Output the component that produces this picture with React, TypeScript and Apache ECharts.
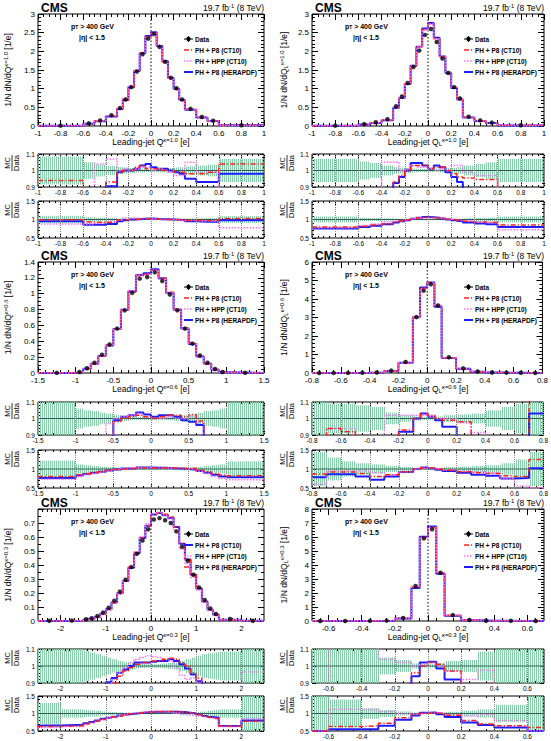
import React, { useEffect, useRef } from 'react';
import * as echarts from 'echarts';

const FONT = '"Liberation Sans", Arial, Helvetica, sans-serif';

// ---------------- Panel 1 : Q (kappa = 1.0) ----------------
const P1_EDGES = [-1, -0.6, -0.5, -0.4, -0.3, -0.25, -0.2, -0.15, -0.1, -0.05, 0, 0.05, 0.1, 0.15, 0.2, 0.25, 0.3, 0.4, 0.5, 0.6, 1];
const P1_DATA = [0.01, 0.07, 0.15, 0.29, 0.48, 0.71, 1.04, 1.46, 1.92, 2.34, 2.46, 2.12, 1.72, 1.29, 1.01, 0.71, 0.46, 0.24, 0.14, 0.02];
const P1_R1_RED = [0.94, 0.85, 0.85, 0.93, 0.99, 1.0, 1.0, 1.02, 1.03, 1.01, 1.01, 1.01, 1.0, 1.0, 0.99, 0.99, 0.98, 0.98, 0.99, 1.04];
const P1_R1_PINK = [0.85, 0.85, 1.04, 1.07, 1.0, 1.01, 1.0, 1.01, 1.02, 1.02, 1.0, 1.01, 1.0, 0.99, 0.97, 0.97, 1.05, 0.99, 0.99, 0.85];
const P1_R1_BLUE = [0.85, 0.85, 0.85, 0.905, 0.99, 1.0, 1.0, 1.01, 1.03, 1.04, 1.02, 1.01, 1.01, 1.0, 0.99, 0.98, 0.95, 0.93, 0.93, 0.98];
const P1_BAND1 = [0.085, 0.05, 0.036, 0.028, 0.02, 0.018, 0.015, 0.012, 0.012, 0.01, 0.01, 0.012, 0.012, 0.015, 0.018, 0.02, 0.025, 0.03, 0.035, 0.07];
const P1_R2_RED = [0.99, 0.93, 0.92, 0.93, 0.98, 0.99, 1.0, 1.01, 1.02, 1.02, 1.01, 1.01, 1.0, 1.0, 0.99, 0.99, 0.97, 0.97, 0.98, 1.03];
const P1_R2_PINK = [0.88, 0.88, 0.9, 0.95, 0.99, 1.05, 1.04, 1.03, 1.03, 1.02, 1.01, 1.0, 1.0, 0.99, 0.98, 0.97, 0.98, 0.96, 0.95, 0.78];
const P1_R2_BLUE = [0.95, 0.86, 0.86, 0.88, 0.95, 0.98, 1.0, 1.01, 1.02, 1.03, 1.02, 1.01, 1.01, 1.0, 0.99, 0.98, 0.95, 0.94, 0.94, 0.98];
const P1_BAND2 = [0.1, 0.06, 0.05, 0.04, 0.03, 0.03, 0.025, 0.02, 0.02, 0.02, 0.02, 0.02, 0.02, 0.02, 0.025, 0.03, 0.03, 0.035, 0.04, 0.09];
const P1_XTICKS = [-1, -0.8, -0.6, -0.4, -0.2, 0, 0.2, 0.4, 0.6, 0.8, 1];

// ---------------- Panel 2 : Q_L (kappa = 1.0) ----------------
const P2_EDGES = [-1, -0.6, -0.5, -0.4, -0.3, -0.25, -0.2, -0.15, -0.1, -0.05, 0, 0.05, 0.1, 0.15, 0.2, 0.25, 0.3, 0.4, 0.5, 0.6, 1];
const P2_DATA = [0.01, 0.05, 0.1, 0.18, 0.53, 0.79, 1.15, 1.58, 2.02, 2.44, 2.6, 2.25, 1.81, 1.42, 1.04, 0.74, 0.25, 0.15, 0.09, 0.02];
const P2_R1_RED = [0.85, 0.85, 0.85, 0.87, 0.93, 0.97, 1.0, 1.03, 1.03, 1.03, 1.01, 1.02, 1.02, 1.0, 0.98, 0.96, 0.955, 0.945, 0.945, 0.85];
const P2_R1_PINK = [0.85, 0.85, 0.85, 1.05, 1.05, 1.0, 1.01, 1.03, 1.02, 1.02, 1.01, 1.0, 1.01, 1.0, 1.03, 1.03, 0.99, 0.97, 0.97, 0.85];
const P2_R1_BLUE = [0.85, 0.85, 0.85, 0.87, 0.925, 0.96, 1.0, 1.045, 1.045, 1.03, 1.01, 1.03, 1.02, 0.99, 0.96, 0.93, 0.88, 0.85, 0.85, 0.85];
const P2_BAND1 = [0.07, 0.055, 0.045, 0.03, 0.02, 0.017, 0.015, 0.012, 0.01, 0.01, 0.01, 0.01, 0.012, 0.015, 0.017, 0.02, 0.03, 0.04, 0.05, 0.07];
const P2_R2_RED = [0.8, 0.82, 0.85, 0.88, 0.93, 0.96, 0.99, 1.02, 1.05, 1.06, 1.05, 1.04, 1.03, 1.01, 0.99, 0.97, 0.95, 0.93, 0.92, 0.85];
const P2_R2_PINK = [0.78, 0.84, 0.88, 0.94, 0.96, 0.97, 0.99, 1.02, 1.04, 1.05, 1.05, 1.04, 1.03, 1.01, 1.0, 0.98, 0.96, 0.94, 0.92, 0.72];
const P2_R2_BLUE = [0.76, 0.8, 0.83, 0.87, 0.92, 0.95, 0.98, 1.02, 1.05, 1.07, 1.06, 1.05, 1.03, 1.0, 0.98, 0.96, 0.92, 0.89, 0.87, 0.8];
const P2_BAND2 = [0.08, 0.05, 0.04, 0.03, 0.02, 0.02, 0.02, 0.02, 0.02, 0.02, 0.02, 0.02, 0.02, 0.02, 0.02, 0.02, 0.03, 0.04, 0.05, 0.08];
const P2_XTICKS = [-1, -0.8, -0.6, -0.4, -0.2, 0, 0.2, 0.4, 0.6, 0.8, 1];

// ---------------- Panel 3 : Q (kappa = 0.6) ----------------
const P3_EDGES = [-1.5, -1, -0.9, -0.8, -0.7, -0.6, -0.5, -0.4, -0.3, -0.2, -0.1, 0, 0.1, 0.2, 0.3, 0.4, 0.5, 0.6, 0.7, 0.8, 0.9, 1, 1.5];
const P3_DATA = [0.002, 0.012, 0.06, 0.13, 0.23, 0.36, 0.56, 0.79, 1.01, 1.19, 1.21, 1.27, 1.16, 0.99, 0.79, 0.56, 0.37, 0.22, 0.13, 0.05, 0.012, 0.002];
const P3_R1_RED = [0.8, 0.8, 0.8, 0.8, 0.8, 0.8, 0.98, 1.0, 1.01, 1.02, 1.01, 1.0, 1.01, 1.02, 1.02, 1.01, 1.025, 0.985, 0.8, 0.8, 0.8, 0.8];
const P3_R1_PINK = [0.8, 0.8, 0.8, 0.8, 0.8, 0.97, 1.0, 1.01, 1.02, 1.03, 1.01, 1.0, 1.0, 1.01, 1.0, 1.0, 1.015, 0.975, 0.8, 0.8, 0.8, 0.8];
const P3_R1_BLUE = [0.8, 0.8, 0.8, 0.8, 0.8, 0.8, 0.99, 1.01, 1.02, 1.037, 1.025, 1.01, 1.02, 1.02, 1.01, 0.99, 0.98, 0.96, 0.8, 0.8, 0.8, 0.8];
const P3_BAND1 = [0.12, 0.06, 0.05, 0.045, 0.035, 0.03, 0.02, 0.015, 0.01, 0.01, 0.01, 0.01, 0.01, 0.01, 0.015, 0.02, 0.025, 0.035, 0.045, 0.05, 0.06, 0.12];
const P3_R2_RED = [0.8, 0.85, 0.88, 0.91, 0.94, 0.97, 0.99, 1.0, 1.01, 1.03, 1.03, 1.02, 1.03, 1.03, 1.02, 1.01, 1.02, 0.97, 0.93, 0.88, 0.84, 0.82];
const P3_R2_PINK = [0.73, 0.8, 0.85, 0.88, 0.92, 0.96, 0.99, 1.01, 1.03, 1.04, 1.03, 1.02, 1.02, 1.02, 1.01, 1.0, 1.0, 0.94, 0.88, 0.8, 0.75, 0.72];
const P3_R2_BLUE = [0.76, 0.83, 0.87, 0.9, 0.93, 0.96, 0.99, 1.01, 1.02, 1.04, 1.04, 1.03, 1.03, 1.02, 1.01, 1.0, 0.99, 0.95, 0.9, 0.85, 0.8, 0.78];
const P3_BAND2 = [0.22, 0.12, 0.1, 0.08, 0.06, 0.05, 0.04, 0.03, 0.02, 0.02, 0.02, 0.02, 0.02, 0.02, 0.03, 0.04, 0.05, 0.06, 0.08, 0.1, 0.12, 0.2];
const P3_XTICKS = [-1.5, -1, -0.5, 0, 0.5, 1, 1.5];

// ---------------- Panel 4 : Q_L (kappa = 0.6) ----------------
const P4_EDGES = [-0.8, -0.7, -0.6, -0.5, -0.4, -0.3, -0.2, -0.1, -0.05, 0, 0.05, 0.1, 0.2, 0.3, 0.4, 0.5, 0.6, 0.7, 0.8];
const P4_DATA = [0.003, 0.004, 0.006, 0.01, 0.03, 0.13, 0.6, 3.02, 4.45, 4.8, 3.65, 0.85, 0.25, 0.08, 0.03, 0.02, 0.01, 0.005];
const P4_R1_RED = [0.85, 0.94, 0.92, 0.85, 0.85, 0.85, 0.93, 1.0, 1.03, 1.02, 1.0, 0.99, 0.98, 0.85, 0.85, 0.85, 0.85, 1.15];
const P4_R1_PINK = [0.85, 0.94, 0.94, 0.85, 0.85, 1.02, 1.02, 1.02, 1.02, 1.01, 1.0, 1.0, 0.975, 0.915, 0.85, 0.85, 0.85, 0.85];
const P4_R1_BLUE = [0.85, 0.85, 0.85, 0.85, 0.85, 0.85, 0.92, 1.0, 1.03, 1.01, 0.99, 0.95, 0.85, 0.85, 0.85, 0.85, 0.85, 1.03];
const P4_BAND1 = [0.15, 0.09, 0.09, 0.08, 0.07, 0.035, 0.02, 0.012, 0.01, 0.01, 0.012, 0.02, 0.025, 0.03, 0.05, 0.07, 0.09, 0.15];
const P4_R2_RED = [0.87, 0.92, 0.92, 0.88, 0.8, 0.85, 0.93, 1.0, 1.03, 1.02, 1.0, 0.97, 0.93, 0.9, 0.88, 0.82, 0.8, 1.25];
const P4_R2_PINK = [0.6, 0.95, 0.95, 0.95, 0.9, 0.85, 0.92, 1.0, 1.02, 1.02, 1.0, 0.97, 0.95, 0.93, 0.9, 0.75, 0.55, 0.5];
const P4_R2_BLUE = [0.78, 0.86, 0.86, 0.8, 0.72, 0.8, 0.92, 1.0, 1.04, 1.02, 0.98, 0.95, 0.9, 0.85, 0.82, 0.75, 0.76, 1.02];
const P4_BAND2 = [0.45, 0.3, 0.2, 0.15, 0.12, 0.08, 0.05, 0.03, 0.02, 0.02, 0.03, 0.05, 0.06, 0.08, 0.1, 0.15, 0.25, 0.45];
const P4_XTICKS = [-0.8, -0.6, -0.4, -0.2, 0, 0.2, 0.4, 0.6, 0.8];

// ---------------- Panel 5 : Q (kappa = 0.3) ----------------
const P5_EDGES = [-2.5, -2, -1.5, -1.375, -1.25, -1.125, -1, -0.875, -0.75, -0.625, -0.5, -0.375, -0.25, -0.125, 0, 0.125, 0.25, 0.375, 0.5, 0.625, 0.75, 0.875, 1, 1.125, 1.25, 1.375, 1.5, 2, 2.5];
const P5_DATA = [0.001, 0.003, 0.012, 0.02, 0.035, 0.06, 0.095, 0.145, 0.21, 0.295, 0.385, 0.48, 0.575, 0.655, 0.725, 0.735, 0.72, 0.7, 0.64, 0.53, 0.43, 0.33, 0.24, 0.15, 0.09, 0.05, 0.015, 0.002];
const P5_R1_RED = [0.8, 0.8, 0.8, 0.8, 0.8, 0.85, 0.88, 0.9, 0.94, 0.97, 0.99, 1.01, 1.02, 1.02, 1.03, 1.03, 1.04, 1.045, 1.04, 1.02, 1.0, 0.96, 0.93, 0.85, 0.8, 0.8, 0.8, 0.8];
const P5_R1_PINK = [0.8, 0.8, 0.8, 0.8, 0.8, 0.85, 0.88, 0.92, 0.96, 0.99, 1.02, 1.04, 1.05, 1.06, 1.055, 1.05, 1.04, 1.03, 0.99, 0.945, 0.92, 0.93, 0.9, 0.85, 0.8, 0.8, 0.8, 0.965];
const P5_R1_BLUE = [0.8, 0.8, 0.8, 0.8, 0.8, 0.88, 0.905, 0.93, 0.96, 0.98, 1.0, 1.02, 1.02, 1.02, 1.025, 1.03, 1.03, 1.04, 1.03, 1.01, 0.985, 0.95, 0.91, 0.85, 0.8, 0.8, 0.8, 0.8];
const P5_BAND1 = [0.15, 0.15, 0.09, 0.08, 0.07, 0.06, 0.05, 0.04, 0.03, 0.025, 0.02, 0.015, 0.012, 0.01, 0.01, 0.012, 0.015, 0.018, 0.022, 0.03, 0.04, 0.05, 0.06, 0.07, 0.075, 0.08, 0.085, 0.15];
const P5_R2_RED = [0.63, 0.65, 0.7, 0.74, 0.78, 0.83, 0.87, 0.9, 0.93, 0.96, 0.99, 1.01, 1.03, 1.04, 1.05, 1.05, 1.06, 1.06, 1.05, 1.04, 1.02, 1.0, 0.97, 0.93, 0.89, 0.86, 0.64, 0.78];
const P5_R2_PINK = [0.6, 0.63, 0.68, 0.73, 0.78, 0.83, 0.87, 0.91, 0.95, 0.98, 1.01, 1.03, 1.05, 1.06, 1.06, 1.06, 1.05, 1.04, 1.01, 0.97, 0.95, 0.94, 0.92, 0.9, 0.87, 0.85, 0.62, 0.85];
const P5_R2_BLUE = [0.66, 0.68, 0.72, 0.76, 0.8, 0.85, 0.88, 0.91, 0.94, 0.97, 0.99, 1.01, 1.03, 1.04, 1.05, 1.05, 1.05, 1.05, 1.05, 1.04, 1.02, 1.0, 0.97, 0.93, 0.9, 0.88, 0.64, 0.8];
const P5_BAND2 = [0.3, 0.12, 0.1, 0.09, 0.08, 0.06, 0.05, 0.04, 0.03, 0.025, 0.02, 0.02, 0.02, 0.02, 0.02, 0.02, 0.02, 0.02, 0.02, 0.025, 0.03, 0.04, 0.05, 0.06, 0.08, 0.1, 0.12, 0.5];
const P5_XTICKS = [-2, -1, 0, 1, 2];

// ---------------- Panel 6 : Q_L (kappa = 0.3) ----------------
const P6_EDGES = [-0.7, -0.6, -0.4, -0.3, -0.2, -0.1, -0.05, 0, 0.05, 0.1, 0.2, 0.3, 0.4, 0.6, 0.7];
const P6_DATA = [0.005, 0.005, 0.01, 0.03, 0.22, 2.5, 5.9, 6.55, 3.45, 0.42, 0.07, 0.02, 0.01, 0.005];
const P6_R1_RED = [0.8, 0.8, 0.8, 0.8, 0.85, 0.96, 1.0, 1.02, 1.01, 0.97, 0.85, 0.8, 0.8, 0.8];
const P6_R1_PINK = [0.8, 1.2, 1.2, 1.04, 1.02, 1.0, 1.01, 1.02, 1.0, 0.97, 0.92, 0.975, 0.8, 0.8];
const P6_R1_BLUE = [0.8, 0.8, 0.8, 0.8, 0.8, 0.94, 1.02, 1.025, 0.985, 0.92, 0.8, 0.8, 0.8, 0.8];
const P6_BAND1 = [0.15, 0.15, 0.15, 0.05, 0.035, 0.015, 0.01, 0.01, 0.015, 0.03, 0.035, 0.085, 0.15, 0.15];
const P6_R2_RED = [0.5, 0.63, 0.65, 0.72, 0.88, 0.97, 1.01, 1.02, 1.0, 0.95, 0.8, 0.7, 0.65, 0.6];
const P6_R2_PINK = [0.5, 1.12, 1.1, 1.05, 1.0, 0.99, 1.01, 1.02, 1.0, 0.97, 0.93, 0.97, 0.8, 0.5];
const P6_R2_BLUE = [0.5, 0.55, 0.55, 0.65, 0.82, 0.94, 1.02, 1.03, 0.98, 0.9, 0.74, 0.67, 0.6, 0.5];
const P6_BAND2 = [0.5, 0.4, 0.15, 0.1, 0.06, 0.03, 0.02, 0.02, 0.03, 0.05, 0.08, 0.12, 0.25, 0.5];
const P6_XTICKS = [-0.6, -0.4, -0.2, 0, 0.2, 0.4, 0.6];

const LEGEND_STD = [
  { kind: 'red', label: 'PH + P8 (CT10)' },
  { kind: 'pink', label: 'PH + HPP (CT10)' },
  { kind: 'blue', label: 'PH + P8 (HERAPDF)' },
];
const LEGEND_P5 = [
  { kind: 'blue', label: 'PH + P8 (CT10)' },
  { kind: 'pink', label: 'PH + HPP (CT10)' },
  { kind: 'red', label: 'PH + P8 (HERAPDF)' },
];

const LS: any = {
  red: { color: '#ff1f1f', width: 1.5, type: [5, 2, 1.2, 2] },
  pink: { color: '#ff70ff', width: 1.5, type: [1.5, 1.5] },
  blue: { color: '#1c1cff', width: 2, type: 'solid' },
};
const BAND_COLOR = '#86cfa9';

const COLS = [
  { left: 38, width: 226, yTitleX: 8, ratioTitleX: 12 },
  { left: 312, width: 232, yTitleX: 284, ratioTitleX: 287 },
];
const ROWS = [
  { main: [14, 112], r1: [154, 33], r2: [201, 37] },
  { main: [262, 111], r1: [402, 33], r2: [450, 38] },
  { main: [509, 112], r1: [649, 34], r2: [696, 35] },
];

const PANELS: any[] = [
  {
    col: 0, row: 0, edges: P1_EDGES, data: P1_DATA,
    r1: { red: P1_R1_RED, pink: P1_R1_PINK, blue: P1_R1_BLUE, band: P1_BAND1 },
    r2: { red: P1_R2_RED, pink: P1_R2_PINK, blue: P1_R2_BLUE, band: P1_BAND2 },
    xMin: -1, xMax: 1, xInterval: 0.2, xMinor: 4, xTicks: P1_XTICKS,
    yMax: 3, yInterval: 0.5, yMinor: 5, hideYMax: false,
    yTitle: '{n|1/N dN/dQ}{sup|κ=1.0}{n| [1/e]}', xTitle: '{n|Leading-jet Q}{sup|κ=1.0}{n| [e]}', legend: LEGEND_STD,
  },
  {
    col: 1, row: 0, edges: P2_EDGES, data: P2_DATA,
    r1: { red: P2_R1_RED, pink: P2_R1_PINK, blue: P2_R1_BLUE, band: P2_BAND1 },
    r2: { red: P2_R2_RED, pink: P2_R2_PINK, blue: P2_R2_BLUE, band: P2_BAND2 },
    xMin: -1, xMax: 1, xInterval: 0.2, xMinor: 4, xTicks: P2_XTICKS,
    yMax: 3, yInterval: 0.5, yMinor: 5, hideYMax: false,
    yTitle: '{n|1/N dN/dQ}{sub|L}{sup|κ=1.0}{n| [1/e]}', xTitle: '{n|Leading-jet Q}{sub|L}{sup|κ=1.0}{n| [e]}', legend: LEGEND_STD,
  },
  {
    col: 0, row: 1, edges: P3_EDGES, data: P3_DATA,
    r1: { red: P3_R1_RED, pink: P3_R1_PINK, blue: P3_R1_BLUE, band: P3_BAND1 },
    r2: { red: P3_R2_RED, pink: P3_R2_PINK, blue: P3_R2_BLUE, band: P3_BAND2 },
    xMin: -1.5, xMax: 1.5, xInterval: 0.5, xMinor: 5, xTicks: P3_XTICKS,
    yMax: 1.4, yInterval: 0.2, yMinor: 4, hideYMax: false,
    yTitle: '{n|1/N dN/dQ}{sup|κ=0.6}{n| [1/e]}', xTitle: '{n|Leading-jet Q}{sup|κ=0.6}{n| [e]}', legend: LEGEND_STD,
  },
  {
    col: 1, row: 1, edges: P4_EDGES, data: P4_DATA,
    r1: { red: P4_R1_RED, pink: P4_R1_PINK, blue: P4_R1_BLUE, band: P4_BAND1 },
    r2: { red: P4_R2_RED, pink: P4_R2_PINK, blue: P4_R2_BLUE, band: P4_BAND2 },
    xMin: -0.8, xMax: 0.8, xInterval: 0.2, xMinor: 4, xTicks: P4_XTICKS,
    yMax: 6, yInterval: 1, yMinor: 5, hideYMax: false,
    yTitle: '{n|1/N dN/dQ}{sub|L}{sup|κ=0.6}{n| [1/e]}', xTitle: '{n|Leading-jet Q}{sub|L}{sup|κ=0.6}{n| [e]}', legend: LEGEND_STD,
  },
  {
    col: 0, row: 2, edges: P5_EDGES, data: P5_DATA,
    r1: { red: P5_R1_RED, pink: P5_R1_PINK, blue: P5_R1_BLUE, band: P5_BAND1 },
    r2: { red: P5_R2_RED, pink: P5_R2_PINK, blue: P5_R2_BLUE, band: P5_BAND2 },
    xMin: -2.5, xMax: 2.5, xInterval: 0.5, xMinor: 5, xTicks: P5_XTICKS,
    yMax: 0.8, yInterval: 0.1, yMinor: 2, hideYMax: true,
    yTitle: '{n|1/N dN/dQ}{sup|κ=0.3}{n| [1/e]}', xTitle: '{n|Leading-jet Q}{sup|κ=0.3}{n| [e]}', legend: LEGEND_P5,
  },
  {
    col: 1, row: 2, edges: P6_EDGES, data: P6_DATA,
    r1: { red: P6_R1_RED, pink: P6_R1_PINK, blue: P6_R1_BLUE, band: P6_BAND1 },
    r2: { red: P6_R2_RED, pink: P6_R2_PINK, blue: P6_R2_BLUE, band: P6_BAND2 },
    xMin: -0.7, xMax: 0.7, xInterval: 0.1, xMinor: 2, xTicks: P6_XTICKS,
    yMax: 8, yInterval: 1, yMinor: 5, hideYMax: false,
    yTitle: '{n|1/N dN/dQ}{sub|L}{sup|κ=0.3}{n| [1/e]}', xTitle: '{n|Leading-jet Q}{sub|L}{sup|κ=0.3}{n| [e]}', legend: LEGEND_STD,
  },
];

function stepPts(edges: number[], vals: number[]) {
  const pts: number[][] = [];
  for (let i = 0; i < vals.length; i++) {
    pts.push([edges[i], vals[i]]);
    pts.push([edges[i + 1], vals[i]]);
  }
  return pts;
}

function richStyles(fs: number, bold: boolean) {
  const w = bold ? 'bold' : 'normal';
  const small = Math.round(fs * 0.7 * 10) / 10;
  return {
    n: { fontSize: fs, fontFamily: FONT, fontWeight: w, fill: '#000', lineHeight: Math.round(fs * 1.15) },
    sup: { fontSize: small, fontFamily: FONT, fontWeight: w, fill: '#000', verticalAlign: 'top' },
    sub: { fontSize: small, fontFamily: FONT, fontWeight: w, fill: '#000', verticalAlign: 'bottom' },
  };
}

function txt(x: number, y: number, text: string, fs: number, o: any = {}) {
  return {
    type: 'text', x, y, rotation: o.rot || 0, silent: true, z: 100,
    style: {
      text, rich: richStyles(fs, !!o.bold), fontSize: fs, fontFamily: FONT,
      fontWeight: o.bold ? 'bold' : 'normal', fill: '#000',
      align: o.align || 'left', verticalAlign: o.va || 'middle',
    },
  };
}

function bandRender(params: any, api: any) {
  const x0 = api.value(0), x1 = api.value(1), b = api.value(2);
  const a = api.coord([x0, 1 + b]);
  const c = api.coord([x1, 1 - b]);
  const cs = params.coordSys;
  const top = Math.max(a[1], cs.y);
  const bot = Math.min(c[1], cs.y + cs.height);
  const xl = Math.max(a[0], cs.x);
  const xr = Math.min(c[0], cs.x + cs.width);
  const children: any[] = [];
  let start = Math.ceil(xl);
  if (start % 2 !== 0) start += 1;
  for (let x = start; x < xr; x += 2) {
    children.push({ type: 'line', shape: { x1: x + 0.5, y1: top, x2: x + 0.5, y2: bot }, style: { stroke: BAND_COLOR, lineWidth: 1 } });
  }
  return { type: 'group', children };
}

function buildOption() {
  const grid: any[] = [];
  const xAxis: any[] = [];
  const yAxis: any[] = [];
  const series: any[] = [];
  const graphic: any[] = [];

  PANELS.forEach((p) => {
    const col = COLS[p.col];
    const row = ROWS[p.row];
    const L = col.left;
    const W = col.width;
    const boxes = [row.main, row.r1, row.r2];
    boxes.forEach((box: number[], k: number) => {
      const g = grid.length;
      const T = box[0];
      const H = box[1];
      grid.push({ left: L, top: T, width: W, height: H, show: true, borderColor: '#000', borderWidth: 1, backgroundColor: 'transparent' });
      const main = k === 0;
      const yMin = main ? 0 : k === 1 ? 0.9 : 0.5;
      const yMax = main ? p.yMax : k === 1 ? 1.1 : 1.5;
      const yInt = main ? p.yInterval : k === 1 ? 0.1 : 0.5;
      const tl = main ? 6 : 4;
      const fs = main ? 8 : 6.5;
      const tick = { show: true, inside: true, length: tl, lineStyle: { color: '#000', width: 1 } };
      const minor = (n: number) => ({ show: true, splitNumber: n, length: tl / 2, lineStyle: { color: '#000', width: 1 } });
      const xb: any = {
        gridIndex: g, type: 'value', min: p.xMin, max: p.xMax, interval: p.xInterval,
        axisLine: { show: false, onZero: false }, splitLine: { show: false },
        axisTick: { ...tick, customValues: p.xTicks }, minorTick: minor(p.xMinor),
      };
      xAxis.push({ ...xb, position: 'bottom', axisLabel: { show: true, fontSize: fs, lineHeight: fs + 1, fontFamily: FONT, color: '#000', margin: main ? 3 : 2, customValues: p.xTicks, hideOverlap: false } });
      xAxis.push({ ...xb, position: 'top', axisLabel: { show: false } });
      const yb: any = {
        gridIndex: g, type: 'value', min: yMin, max: yMax, interval: yInt,
        axisLine: { show: false, onZero: false }, splitLine: { show: false },
        axisTick: tick, minorTick: minor(main ? p.yMinor : 5),
      };
      yAxis.push({ ...yb, position: 'left', axisLabel: { show: true, fontSize: fs, lineHeight: fs, fontFamily: FONT, color: '#000', margin: 3, showMaxLabel: main ? !p.hideYMax : true } });
      yAxis.push({ ...yb, position: 'right', axisLabel: { show: false } });
      const xi = 2 * g;
      const yi = 2 * g;

      if (main) {
        // dotted line at zero
        series.push({
          type: 'line', xAxisIndex: xi, yAxisIndex: yi, data: [[0, 0], [0, p.yMax]],
          showSymbol: false, symbol: 'none', lineStyle: { color: '#000', width: 1, type: [1.5, 2] }, silent: true, z: 2,
        });
        ['blue', 'red', 'pink'].forEach((kind) => {
          const ratio = p.r2[kind];
          const vals = p.data.map((d: number, i: number) => d * ratio[i]);
          series.push({
            type: 'line', xAxisIndex: xi, yAxisIndex: yi, data: stepPts(p.edges, vals),
            showSymbol: false, symbol: 'none', lineStyle: { ...LS[kind] }, silent: true, z: 3, clip: true,
          });
        });
        series.push({
          type: 'scatter', xAxisIndex: xi, yAxisIndex: yi,
          data: p.data.map((d: number, i: number) => [(p.edges[i] + p.edges[i + 1]) / 2, d]),
          symbol: 'circle', symbolSize: 4.5, itemStyle: { color: '#000' }, silent: true, z: 5,
        });

        // texts
        graphic.push(txt(L + 3, T - 6, 'CMS', 12, { bold: true }));
        graphic.push(txt(L + W, T - 6, '{n|19.7 fb}{sup|-1}{n| (8 TeV)}', 8.5, { align: 'right' }));
        graphic.push(txt(L + 33, T + 12, '{n|p}{sub|T}{n| > 400 GeV}', 7, { bold: true }));
        graphic.push(txt(L + 41, T + 23, '|η| < 1.5', 7, { bold: true }));
        graphic.push(txt(L + W / 2, T + H + 16, p.xTitle, 8.5, { align: 'center' }));
        graphic.push(txt(col.yTitleX, T + H / 2, p.yTitle, 8.5, { align: 'center', rot: Math.PI / 2 }));
        // legend
        const lx = L + W - 80;
        const tx = L + W - 69;
        const ly0 = T + 25;
        graphic.push({ type: 'line', silent: true, z: 100, shape: { x1: lx, y1: ly0, x2: lx + 9, y2: ly0 }, style: { stroke: '#000', lineWidth: 1 } });
        graphic.push({ type: 'line', silent: true, z: 100, shape: { x1: lx + 4.5, y1: ly0 - 3, x2: lx + 4.5, y2: ly0 + 3 }, style: { stroke: '#000', lineWidth: 1 } });
        graphic.push({ type: 'circle', silent: true, z: 100, shape: { cx: lx + 4.5, cy: ly0, r: 2.2 }, style: { fill: '#000' } });
        graphic.push(txt(tx, ly0, 'Data', 6.5, { bold: true }));
        p.legend.forEach((e: any, i: number) => {
          const y = ly0 + 11 * (i + 1);
          const s = LS[e.kind];
          graphic.push({
            type: 'line', silent: true, z: 100, shape: { x1: lx, y1: y, x2: lx + 9, y2: y },
            style: { stroke: s.color, lineWidth: s.width, lineDash: Array.isArray(s.type) ? s.type : null },
          });
          graphic.push(txt(tx, y, e.label, 6.5, { bold: true }));
        });
      } else {
        const rs = k === 1 ? p.r1 : p.r2;
        series.push({
          type: 'custom', xAxisIndex: xi, yAxisIndex: yi, renderItem: bandRender,
          data: rs.band.map((b: number, i: number) => [p.edges[i], p.edges[i + 1], b]),
          encode: { x: [0, 1], y: 2 }, silent: true, z: 1,
        });
        series.push({
          type: 'line', xAxisIndex: xi, yAxisIndex: yi, data: [[p.xMin, 1], [p.xMax, 1]],
          showSymbol: false, symbol: 'none', lineStyle: { color: '#355a58', width: 1 }, silent: true, z: 2,
          markLine: {
            silent: true, symbol: 'none', label: { show: false },
            lineStyle: { type: 'dotted', color: '#8a8a8a', width: 1 },
            data: p.xTicks.map((v: number) => ({ xAxis: v })),
          },
        });
        ['blue', 'pink', 'red'].forEach((kind) => {
          series.push({
            type: 'line', xAxisIndex: xi, yAxisIndex: yi, data: stepPts(p.edges, rs[kind]),
            showSymbol: false, symbol: 'none', lineStyle: { ...LS[kind] }, silent: true, z: 3, clip: true,
          });
        });
        // MC / Data fraction title
        const cx = col.ratioTitleX;
        const cy = T + 9;
        graphic.push({
          type: 'group', x: cx, y: cy, rotation: Math.PI / 2, silent: true, z: 100,
          children: [
            { type: 'text', x: 0, y: -0.5, style: { text: 'MC', fontSize: 7.5, fontFamily: FONT, fill: '#000', align: 'center', verticalAlign: 'bottom' } },
            { type: 'line', shape: { x1: -8, y1: 0, x2: 8, y2: 0 }, style: { stroke: '#000', lineWidth: 0.8 } },
            { type: 'text', x: 0, y: 0.5, style: { text: 'Data', fontSize: 7.5, fontFamily: FONT, fill: '#000', align: 'center', verticalAlign: 'top' } },
          ],
        });
      }
    });
  });

  return {
    animation: false,
    backgroundColor: '#fff',
    textStyle: { fontFamily: FONT },
    grid, xAxis, yAxis, series, graphic,
  };
}

export default function App() {
  const ref = useRef<HTMLDivElement>(null);
  useEffect(() => {
    if (!ref.current) return;
    const chart = echarts.init(ref.current, undefined, { renderer: 'svg' });
    chart.setOption(buildOption() as any);
    return () => chart.dispose();
  }, []);
  return <div ref={ref} style={{ position: 'absolute', left: 0, top: 0, width: 551, height: 741, background: '#fff' }} />;
}
